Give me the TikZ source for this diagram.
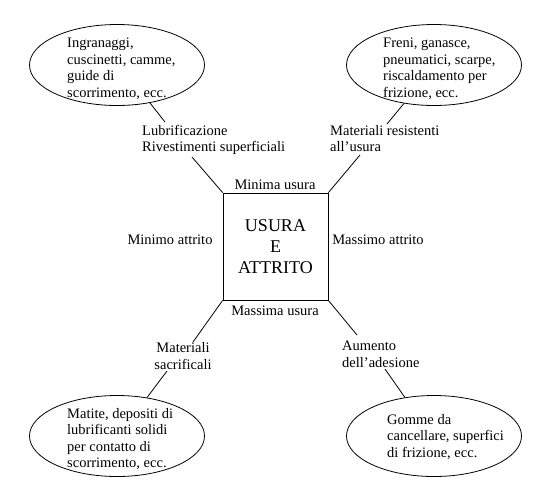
\documentclass[tikz,border=0pt]{standalone}
\usepackage{fontspec}
\setmainfont{Liberation Serif}
\usetikzlibrary{shapes.geometric,calc}
\begin{document}
\begin{tikzpicture}[x=1pt,y=-1pt,
  lw/.style={line width=0.8pt},
  ell/.style={draw,lw,ellipse,minimum width=175pt,minimum height=81pt,inner sep=0pt},
  txt/.style={font=\fontsize{14.5}{16.5}\selectfont,inner sep=0pt,align=left},
  ctxt/.style={font=\fontsize{14.5}{16.5}\selectfont,inner sep=0pt,align=center},
  bigbox/.style={draw,lw,minimum width=105pt,minimum height=107pt,inner sep=0pt,
    font=\fontsize{18}{21}\selectfont,align=center},
  conn/.style={lw}]
\useasboundingbox (0,0) rectangle (540,488);
% central box
\node[bigbox] (box) at (275.5,246.5) {USURA\\E\\ATTRITO};
% side labels
\node[ctxt] (top) at (275,185) {Minima usura};
\node[ctxt] (bot) at (275,311) {Massima usura};
\node[ctxt] (left) at (170,240) {Minimo attrito};
\node[ctxt] (right) at (378,240) {Massimo attrito};
% ellipses
\node[ell] (e1) at (117,65) {};
\node[ell] (e2) at (434,65) {};
\node[ell] (e3) at (117,436) {};
\node[ell] (e4) at (434,436) {};
% ellipse texts
\node[txt,anchor=west] (t1) at (67,69) {Ingranaggi,\\cuscinetti, camme,\\guide di\\scorrimento, ecc.};
\node[txt,anchor=west] (t2) at (383,69) {Freni, ganasce,\\pneumatici, scarpe,\\riscaldamento per\\frizione, ecc.};
\node[txt,anchor=west] (t3) at (67,439) {Matite, depositi di\\lubrificanti solidi\\per contatto di\\scorrimento, ecc.};
\node[txt,anchor=west] (t4) at (387,437) {Gomme da\\cancellare, superfici\\di frizione, ecc.};
% connector labels
\node[txt,anchor=north west] (l1) at (142,125) {Lubrificazione\\Rivestimenti superficiali};
\node[txt,anchor=north west] (l2) at (330,125) {Materiali resistenti\\all'usura};
\node[ctxt] (l3) at (183,356) {Materiali\\sacrificali};
\node[txt,anchor=north west] (l4) at (342,341) {Aumento\\dell'adesione};
% connector end points
\coordinate (a1) at (165,122);
\coordinate (b1) at (192,157);
\coordinate (a2) at (387,124);
\coordinate (b2) at (360,155);
\coordinate (a3) at (193,342);
\coordinate (b3) at (167,371);
\coordinate (a4) at (357,335);
\coordinate (b4) at (385,369);
% connectors
\draw[conn] (e1.-49) -- (a1);
\draw[conn] (b1) -- (box.north west);
\draw[conn] (e2.-128) -- (a2);
\draw[conn] (b2) -- (box.north east);
\draw[conn] (box.south west) -- (a3);
\draw[conn] (b3) -- (e3.52);
\draw[conn] (box.south east) -- (a4);
\draw[conn] (b4) -- (e4.127);
\end{tikzpicture}
\end{document}
